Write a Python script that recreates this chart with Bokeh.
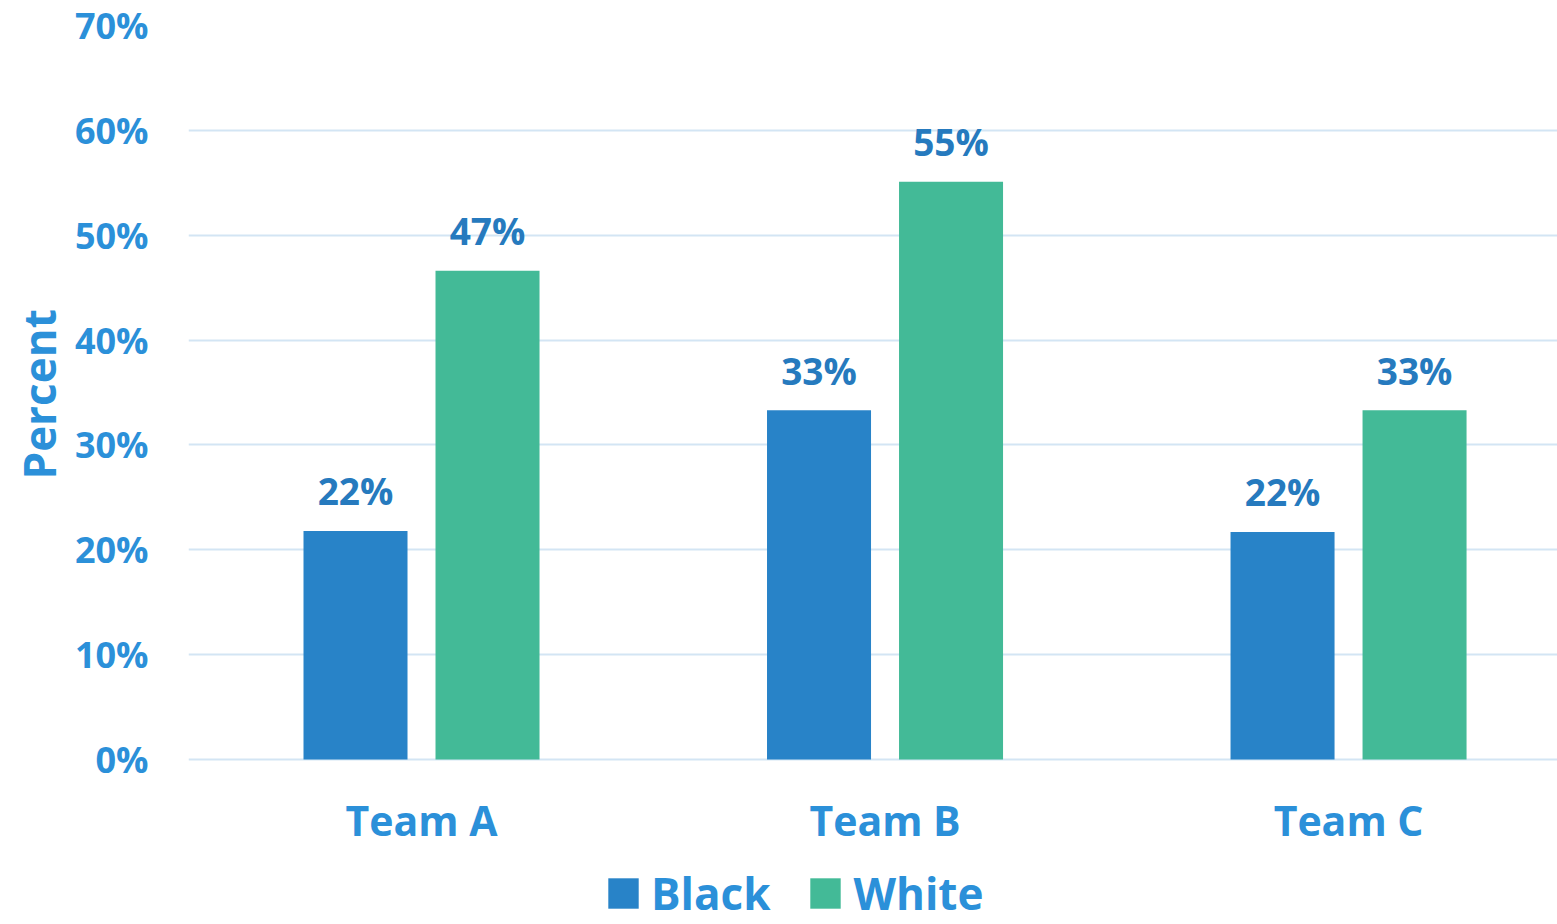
from bokeh.plotting import figure
from bokeh.models import (ColumnDataSource, Range1d, FixedTicker, NumeralTickFormatter,
                          Legend, LegendItem, Title)
from bokeh.transform import dodge
from bokeh.core.properties import value
from bokeh.embed import file_html
from bokeh.resources import INLINE

teams = ["Team A", "Team B", "Team C"]
black = [0.218, 0.333, 0.217]
white = [0.466, 0.551, 0.333]
y_ticks = [0.0, 0.1, 0.2, 0.3, 0.4, 0.5, 0.6, 0.7]

pos = [i + 0.5 for i in range(len(teams))]
src = ColumnDataSource(dict(
    x=pos, black=black, white=white,
    black_lbl=[f"{v*100:.0f}%" for v in black],
    white_lbl=[f"{v*100:.0f}%" for v in white],
))

BLUE = "#2883C8"
GREEN = "#43BA97"
AXIS_TXT = "#2B90D9"
LBL_TXT = "#267ABE"
FONT = "Open Sans"

p = figure(width=1557, height=924,
           x_range=Range1d(-0.0027, 2.9508), y_range=Range1d(-0.15736, 0.70),
           output_backend="svg", toolbar_location=None,
           min_border_left=188, min_border_right=0, min_border_top=25,
           min_border_bottom=0)
p.outline_line_color = None
p.background_fill_color = "white"

bw = 0.2244
off = 0.1424
r1 = p.vbar(x=dodge("x", -off), top="black", width=bw, source=src,
            fill_color=BLUE, line_color=None)
r2 = p.vbar(x=dodge("x", off), top="white", width=bw, source=src,
            fill_color=GREEN, line_color=None)

for col, lbl, o in (("black", "black_lbl", -off), ("white", "white_lbl", off)):
    p.text(x=dodge("x", o), y=col, text=lbl, source=src,
           text_font=value(FONT), text_font_style="bold", text_font_size="37px",
           text_color=LBL_TXT, text_align="center", text_baseline="alphabetic",
           y_offset=-40)

# y axis
ya = p.yaxis[0]
ya.ticker = FixedTicker(ticks=y_ticks)
ya.formatter = NumeralTickFormatter(format="0%")
ya.axis_line_color = None
ya.major_tick_line_color = None
ya.minor_tick_line_color = None
ya.major_label_standoff = 34
ya.major_label_text_font = FONT
ya.major_label_text_font_style = "bold"
ya.major_label_text_font_size = "36px"
ya.major_label_text_color = AXIS_TXT

p.add_layout(Title(text="Percent", align="left", offset=445, standoff=6,
                   text_font=FONT, text_font_style="bold", text_font_size="44px",
                   text_color=AXIS_TXT), "left")

# x axis, pinned at y = 0
xa = p.xaxis[0]
xa.fixed_location = 0
xa.ticker = FixedTicker(ticks=pos)
xa.major_label_overrides = {x: t for x, t in zip(pos, teams)}
xa.axis_line_color = None
xa.major_tick_line_color = None
xa.minor_tick_line_color = None
xa.major_label_standoff = 27
xa.major_label_text_font = FONT
xa.major_label_text_font_style = "bold"
xa.major_label_text_font_size = "41px"
xa.major_label_text_color = AXIS_TXT

p.xgrid.grid_line_color = None
p.ygrid.grid_line_color = "#D3E5F4"
p.ygrid.grid_line_width = 2
p.ygrid.ticker = FixedTicker(ticks=y_ticks)

legend = Legend(items=[LegendItem(label="Black", renderers=[r1]),
                       LegendItem(label="White", renderers=[r2])],
                orientation="horizontal", location=(416, 1),
                glyph_width=38, glyph_height=38, label_standoff=9, spacing=36,
                padding=0, margin=0, border_line_color=None,
                background_fill_alpha=0,
                label_text_font=FONT, label_text_font_style="bold",
                label_text_font_size="44px", label_text_color=AXIS_TXT)
p.add_layout(legend, "center")

open("out.html", "w").write(file_html(p, INLINE))
